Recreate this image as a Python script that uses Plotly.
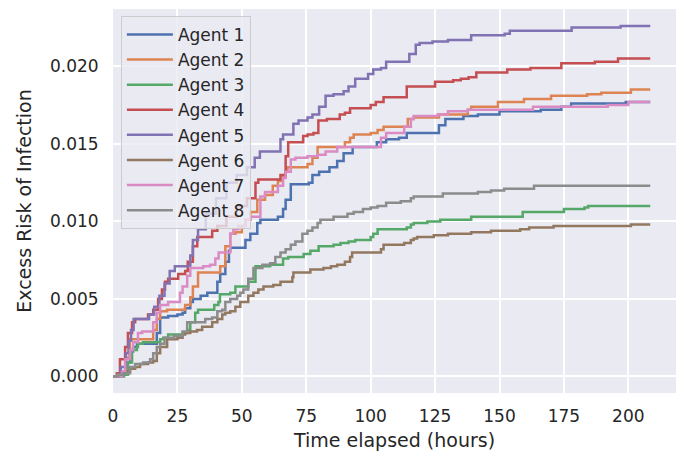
import plotly.graph_objects as go

agent1_t = [0, 3.5, 5.4, 6.6, 7.8, 9.3, 15, 17, 18.3, 21.4, 25, 27, 28, 30, 31, 34, 36.6, 40.5, 41.6, 43.6, 45, 45.5, 51.4, 53.3, 56, 57.2, 64, 66, 67, 69, 76, 77.4, 80, 84, 87, 89.5, 93, 102.4, 106, 111, 114, 126.5, 129, 136, 141.6, 150, 166, 174, 177.8, 199, 208.5]
agent1_v = [0, 0.0001, 0.0009, 0.0016, 0.0019, 0.0021, 0.0021, 0.0028, 0.0038, 0.0039, 0.0040, 0.0041, 0.0044, 0.0048, 0.0050, 0.0052, 0.0054, 0.0061, 0.0066, 0.0074, 0.0081, 0.0083, 0.0088, 0.0092, 0.0099, 0.0101, 0.0103, 0.0108, 0.0114, 0.0124, 0.0125, 0.0130, 0.0132, 0.0135, 0.0139, 0.0144, 0.0148, 0.0151, 0.0153, 0.0154, 0.0157, 0.0162, 0.0166, 0.0168, 0.0169, 0.0171, 0.0172, 0.0174, 0.0176, 0.0177, 0.0177]

agent2_t = [0, 3, 5, 6.5, 15.6, 17, 18.3, 21, 28, 30, 31, 33, 41.6, 43.6, 45.5, 47.5, 50, 51.4, 53.3, 56, 59, 62, 64, 65.8, 67, 67.7, 75.5, 77.4, 79.4, 90, 92, 93.4, 100, 102.7, 105, 114.4, 116.7, 126.5, 137.7, 139, 149.4, 159.5, 170, 184, 189.5, 201, 208.5]
agent2_v = [0, 0.0002, 0.0012, 0.0024, 0.0030, 0.0037, 0.0042, 0.0043, 0.0046, 0.0051, 0.0058, 0.0067, 0.0071, 0.0084, 0.0092, 0.0093, 0.0097, 0.0101, 0.0106, 0.0114, 0.0117, 0.0123, 0.0126, 0.0129, 0.0132, 0.0135, 0.0137, 0.0141, 0.0148, 0.0151, 0.0154, 0.0156, 0.0157, 0.0159, 0.0161, 0.0166, 0.0167, 0.0169, 0.0172, 0.0174, 0.0177, 0.0179, 0.0181, 0.0182, 0.0183, 0.0185, 0.0185]

agent3_t = [0, 4.3, 5.8, 7.4, 9.3, 9.7, 11.7, 18.3, 19.5, 21.4, 27, 28.8, 30, 31.9, 33, 39.3, 40.9, 41.5, 45.5, 47.5, 52.5, 55.3, 61, 66, 68, 74, 76.6, 79.8, 85.6, 88.3, 91.4, 94, 100, 101, 102.7, 114, 115.6, 116.7, 122, 127, 139, 159, 175, 183, 184.4, 208.5]
agent3_v = [0, 0.0001, 0.0009, 0.0017, 0.0019, 0.0021, 0.0022, 0.0024, 0.0025, 0.0027, 0.0028, 0.0030, 0.0035, 0.0041, 0.0043, 0.0046, 0.0048, 0.0053, 0.0054, 0.0058, 0.0061, 0.0071, 0.0072, 0.0076, 0.0077, 0.0079, 0.0081, 0.0084, 0.0085, 0.0086, 0.0087, 0.0088, 0.0090, 0.0092, 0.0095, 0.0096, 0.0098, 0.0099, 0.0100, 0.0101, 0.0103, 0.0106, 0.0108, 0.0109, 0.0110, 0.0110]

agent4_t = [0, 1.5, 2.7, 4.7, 5.8, 7.4, 8.6, 13.6, 15.6, 17.5, 19, 20.2, 21.4, 25.3, 28, 29, 31, 32.7, 38.5, 40.5, 44, 48, 52, 55.3, 56.4, 65, 67, 68, 73.8, 75.5, 77.8, 79.7, 83, 88, 90, 92, 100, 102, 105, 114, 125, 132, 135, 138, 141, 153, 162, 174, 187, 196, 208.5]
agent4_v = [0, 0.0002, 0.0011, 0.0019, 0.0028, 0.0035, 0.0037, 0.0040, 0.0043, 0.0050, 0.0056, 0.0061, 0.0063, 0.0066, 0.0068, 0.0074, 0.0084, 0.0090, 0.0094, 0.0097, 0.0103, 0.0110, 0.0115, 0.0125, 0.0127, 0.0130, 0.0142, 0.0151, 0.0155, 0.0156, 0.0157, 0.0165, 0.0166, 0.0169, 0.0170, 0.0173, 0.0175, 0.0177, 0.0180, 0.0187, 0.0190, 0.0191, 0.0192, 0.0193, 0.0196, 0.0198, 0.0199, 0.0202, 0.0203, 0.0205, 0.0205]

agent5_t = [0, 2, 3, 5, 6, 7, 8, 14, 16, 18, 20, 22, 24, 30, 31, 33, 36, 40, 44, 48, 52, 55, 57, 65, 66, 70, 72, 75.5, 77.4, 80, 82.5, 85.6, 89.5, 91.4, 94, 99, 101, 104, 106, 115, 117.5, 119, 124, 130, 139, 152, 154, 178, 197, 208.5]
agent5_v = [0, 0.0001, 0.0006, 0.0015, 0.0023, 0.0030, 0.0037, 0.0040, 0.0045, 0.0052, 0.0060, 0.0068, 0.0071, 0.0078, 0.0088, 0.0095, 0.0105, 0.0115, 0.0125, 0.0130, 0.0135, 0.0141, 0.0145, 0.0153, 0.0156, 0.0163, 0.0165, 0.0167, 0.0169, 0.0174, 0.0181, 0.0182, 0.0184, 0.0187, 0.0192, 0.0195, 0.0198, 0.0199, 0.0203, 0.0208, 0.0214, 0.0215, 0.0216, 0.0217, 0.0220, 0.0221, 0.0223, 0.0225, 0.0226, 0.0226]

agent6_t = [0, 1.6, 4, 6.6, 8.6, 10.5, 13.6, 15.6, 17, 18.3, 21, 25, 27, 28, 30, 32.6, 34.6, 38.5, 40.5, 42.4, 43.6, 45.5, 47.5, 49.4, 52.5, 54.5, 56.4, 58.4, 62.2, 65, 69.6, 70, 76.6, 81.7, 84.6, 87, 90, 92, 92.8, 104, 105, 113, 115.6, 116.7, 118, 124.5, 130, 139, 146.7, 158, 161.5, 171, 201, 208.5]
agent6_v = [0, 0.0001, 0.0003, 0.0005, 0.0006, 0.0008, 0.0009, 0.0010, 0.0015, 0.0019, 0.0024, 0.0025, 0.0027, 0.0028, 0.0029, 0.0030, 0.0032, 0.0035, 0.0037, 0.0040, 0.0041, 0.0042, 0.0045, 0.0048, 0.0052, 0.0054, 0.0056, 0.0058, 0.0059, 0.0061, 0.0064, 0.0067, 0.0069, 0.0070, 0.0071, 0.0072, 0.0074, 0.0077, 0.0080, 0.0082, 0.0085, 0.0086, 0.0088, 0.0089, 0.0090, 0.0091, 0.0092, 0.0093, 0.0094, 0.0095, 0.0096, 0.0097, 0.0098, 0.0098]

agent7_t = [0, 3.5, 4.7, 6.6, 7.8, 9.7, 11.3, 15.6, 17, 18.3, 21.4, 26, 27, 28.8, 30, 35, 37.7, 39.7, 41, 45.5, 46.7, 48.6, 51.4, 53.3, 57.2, 59, 64, 66, 67, 69, 70.8, 75.5, 79.4, 82.5, 87, 104, 106, 113, 115.6, 116.7, 126, 130, 137.7, 163, 192, 200, 208.5]
agent7_v = [0, 0.0003, 0.0011, 0.0017, 0.0022, 0.0028, 0.0029, 0.0035, 0.0041, 0.0046, 0.0048, 0.0054, 0.0058, 0.0065, 0.0070, 0.0071, 0.0072, 0.0076, 0.0080, 0.0092, 0.0095, 0.0097, 0.0101, 0.0103, 0.0116, 0.0119, 0.0123, 0.0128, 0.0132, 0.0140, 0.0141, 0.0142, 0.0143, 0.0145, 0.0148, 0.0154, 0.0157, 0.0161, 0.0166, 0.0168, 0.0169, 0.0171, 0.0172, 0.0174, 0.0175, 0.0177, 0.0177]

agent8_t = [0, 2, 4, 6.6, 8.6, 11.7, 14.4, 15.6, 17, 18.3, 20, 23.7, 27, 28.8, 35.8, 38.5, 40.5, 42.4, 43.6, 45.5, 48.2, 49.4, 50.6, 52.5, 54.5, 58, 61, 63, 65, 67, 69, 70.8, 73.5, 75.5, 77.4, 79.4, 80.5, 85.6, 88.3, 91, 93.4, 97, 100, 102.7, 106, 111.7, 115.6, 116.7, 128, 141.6, 146.7, 151.8, 163.4, 166, 208.5]
agent8_v = [0, 0.0001, 0.0002, 0.0006, 0.0008, 0.0009, 0.0011, 0.0015, 0.0019, 0.0021, 0.0025, 0.0026, 0.0029, 0.0035, 0.0037, 0.0038, 0.0042, 0.0043, 0.0048, 0.0050, 0.0052, 0.0054, 0.0056, 0.0063, 0.0070, 0.0072, 0.0073, 0.0077, 0.0080, 0.0082, 0.0085, 0.0087, 0.0092, 0.0094, 0.0096, 0.0099, 0.0101, 0.0103, 0.0103, 0.0105, 0.0106, 0.0108, 0.0109, 0.0110, 0.0112, 0.0113, 0.0115, 0.0116, 0.0118, 0.0119, 0.0120, 0.0121, 0.0123, 0.0123, 0.0123]

names = ["Agent 1", "Agent 2", "Agent 3", "Agent 4", "Agent 5", "Agent 6", "Agent 7", "Agent 8"]
colors = ["#4C72B0", "#DD8452", "#55A868", "#C44E52", "#8172B3", "#937860", "#DA8BC3", "#8C8C8C"]
series = [(agent1_t, agent1_v), (agent2_t, agent2_v), (agent3_t, agent3_v), (agent4_t, agent4_v),
          (agent5_t, agent5_v), (agent6_t, agent6_v), (agent7_t, agent7_v), (agent8_t, agent8_v)]

x_ticks = [0, 25, 50, 75, 100, 125, 150, 175, 200]
y_ticks = [0.0, 0.005, 0.010, 0.015, 0.020]

fig = go.Figure()
for name, color, (t, v) in zip(names, colors, series):
    fig.add_trace(go.Scatter(x=t, y=v, mode="lines", name=name,
                             line=dict(color=color, width=2.5, shape="hv")))

font_family = "DejaVu Sans"
fig.update_layout(
    width=683, height=454,
    margin=dict(l=113, r=7, t=9, b=61, autoexpand=False),
    paper_bgcolor="white",
    plot_bgcolor="#EAEAF2",
    font=dict(family=font_family, size=17, color="#262626"),
    showlegend=True,
    legend=dict(x=0.014, y=0.982, xanchor="left", yanchor="top",
                bgcolor="rgba(234,234,242,0.8)", bordercolor="#CCCCCC", borderwidth=1,
                font=dict(family=font_family, size=17, color="#262626"),
                itemwidth=46),
    xaxis=dict(range=[0, 218.5], tickvals=x_ticks, showgrid=True, gridcolor="white",
               gridwidth=1.5, zeroline=False, showline=False, automargin=False,
               ticks="outside", ticklen=8, tickcolor="rgba(0,0,0,0)",
               tickfont=dict(size=17),
               title=dict(text="Time elapsed (hours)", font=dict(size=19), standoff=8)),
    yaxis=dict(range=[-0.00107, 0.0237], tickvals=y_ticks, tickformat=".3f", showgrid=True,
               gridcolor="white", gridwidth=1.5, zeroline=False, showline=False, automargin=False,
               ticks="outside", ticklen=10, tickcolor="rgba(0,0,0,0)",
               tickfont=dict(size=17),
               title=dict(text="Excess Risk of Infection", font=dict(size=19), standoff=13)),
)

fig.write_html("out.html", config={"displayModeBar": False},
               post_script="document.body.style.margin='0';")
